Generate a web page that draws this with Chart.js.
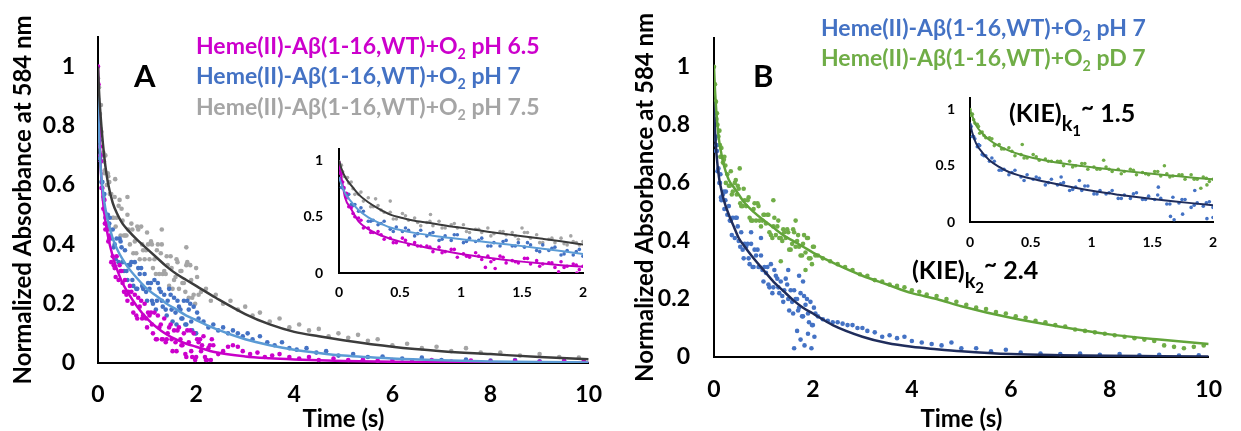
<!DOCTYPE html>
<html>
<head>
<meta charset="utf-8">
<script src="https://cdn.jsdelivr.net/npm/chart.js@4.4.0/dist/chart.umd.min.js"></script>
<style>
  body { margin: 0; width: 1241px; height: 431px; background: #fff; position: relative; overflow: hidden; font-family: Lato, sans-serif; font-weight: bold; }
  canvas { position: absolute; }
  .lbl { position: absolute; white-space: nowrap; line-height: 1; }
  .lbl sub { font-size: 0.62em; vertical-align: -0.35em; line-height: 0; }
  .kie sub { font-size: 0.8em; vertical-align: -0.45em; }
  .kie sub sub { font-size: 0.75em; vertical-align: -0.3em; }
  .kie sup { font-size: 0.9em; vertical-align: 0.3em; line-height: 0; }
</style>
</head>
<body>
<canvas id="mainA" width="620" height="431" style="left:0;top:0"></canvas>
<canvas id="mainB" width="621" height="431" style="left:620px;top:0"></canvas>
<canvas id="insetA" width="310" height="190" style="left:290px;top:125px"></canvas>
<canvas id="insetB" width="315" height="190" style="left:915px;top:75px"></canvas>

<div class="lbl" style="left:196px;top:34px;font-size:23px;color:#cc00cc">Heme(II)-Aβ(1-16,WT)+O<sub>2</sub> pH 6.5</div>
<div class="lbl" style="left:196px;top:64px;font-size:23px;color:#4472c4">Heme(II)-Aβ(1-16,WT)+O<sub>2</sub> pH 7</div>
<div class="lbl" style="left:196px;top:95px;font-size:23px;color:#a5a5a5">Heme(II)-Aβ(1-16,WT)+O<sub>2</sub> pH 7.5</div>
<div class="lbl" style="left:134px;top:60px;font-size:31px;color:#000">A</div>

<div class="lbl" style="left:821px;top:16px;font-size:23px;color:#4472c4">Heme(II)-Aβ(1-16,WT)+O<sub>2</sub> pH 7</div>
<div class="lbl" style="left:821px;top:46px;font-size:23px;color:#70ad47">Heme(II)-Aβ(1-16,WT)+O<sub>2</sub> pD 7</div>
<div class="lbl" style="left:753px;top:60px;font-size:31px;color:#000">B</div>
<div class="lbl kie" style="left:1009px;top:100px;font-size:25px;color:#000">(KIE)<sub>k<sub>1</sub></sub><sup>~</sup> 1.5</div>
<div class="lbl kie" style="left:912px;top:257px;font-size:25px;color:#000">(KIE)<sub>k<sub>2</sub></sub><sup>~</sup> 2.4</div>

<script>
// ---- axis ticks ----
const xTicksMain = [0, 2, 4, 6, 8, 10];
const yTicksMain = [0, 0.2, 0.4, 0.6, 0.8, 1];
const xTicksInset = [0, 0.5, 1, 1.5, 2];
const yTicksInset = [0, 0.5, 1];

// ---- main panels: dense part of the traces (first 2 s) ----
const tDense = [0.00,0.01,0.02,0.03,0.04,0.05,0.07,0.09,0.11,0.13,0.15,0.18,0.21,0.24,0.27,0.30,0.34,0.38,0.42,0.46,0.50,
  0.55,0.60,0.65,0.70,0.75,0.80,0.85,0.90,0.95,1.00,1.05,1.10,1.15,1.20,1.25,1.30,1.35,1.40,1.45,1.50,
  1.55,1.60,1.65,1.70,1.75,1.80,1.85,1.90,1.95,2.00,2.05,2.10,2.15,2.20,2.25,2.30,2.35];
const tDense2 = [0.12,0.20,0.32,0.44,0.53,0.62,0.72,0.82,0.92,1.02,1.12,1.22,1.32,1.42,1.52,1.62,1.72,1.82,1.92,2.02,2.12,2.22,2.32];
const tDense3 = [0.06,0.14,0.23,0.36,0.48,0.58,0.68,0.78,0.88,0.98,1.08,1.18,1.28,1.38,1.48,1.58,1.68,1.78,1.88,1.98,2.08,2.18,2.28];

// panel A
const denseA65 = [1.00,0.94,0.83,0.82,0.73,0.70,0.59,0.59,0.52,0.55,0.45,0.47,0.41,0.43,0.34,0.36,0.32,0.36,0.28,0.31,0.27,
  0.28,0.21,0.26,0.20,0.23,0.15,0.19,0.15,0.20,0.12,
  0.16,0.13,0.17,0.08,0.12,0.08,0.15,0.08,0.12,0.08,0.11,0.04,0.12,0.06,0.10,0.02,0.07,0.04,0.10,0.02,
  0.07,0.04,0.09,0.01,0.05,0.01,0.06];
const denseA65b = [0.52,0.45,0.33,0.33,0.24,0.24,0.17,0.22,0.16,0.17,0.10,0.16,0.08,0.10,0.04,0.11,0.06,0.11,0.02,0.08,0.06,0.01,0.08];
const denseA65c = [0.68,0.47,0.42,0.29,0.31,0.23,0.24,0.16,0.21,0.15,0.17,0.08,0.13,0.07,0.13,0.07,0.08,0.03,0.11,0.01,0.08,0.02,0.06];
const denseA70 = [0.89,0.86,0.75,0.75,0.69,0.70,0.61,0.61,0.56,0.57,0.49,0.50,0.46,0.49,0.42,0.45,0.40,0.42,0.34,0.41,0.34,
  0.38,0.28,0.33,0.28,0.34,0.25,0.30,0.26,0.30,0.21,
  0.25,0.21,0.28,0.21,0.25,0.21,0.23,0.16,0.25,0.18,0.22,0.13,0.19,0.15,0.21,0.13,0.18,0.14,0.19,0.10,
  0.15];
const denseA70b = [0.55,0.50,0.39,0.42,0.31,0.33,0.26,0.32,0.25,0.27,0.20,0.27,0.19,0.21,0.14,0.21,0.15,0.21,0.11,0.17];
const denseA70c = [0.68,0.51,0.47,0.35,0.39,0.31,0.34,0.25,0.32,0.24,0.27,0.18,0.24,0.18,0.23,0.17,0.18,0.13,0.20,0.10];
const denseA75 = [0.96,0.93,0.93,0.84,0.84,0.79,0.78,0.70,0.71,0.64,0.70,0.60,0.63,0.57,0.57,0.49,0.56,0.49,0.53,0.43,0.48,
  0.43,0.50,0.40,0.45,0.41,0.46,0.35,0.40,0.35,0.44,
  0.35,0.40,0.35,0.38,0.30,0.40,0.31,0.36,0.26,0.32,0.28,0.35,0.25,0.31,0.27,0.33,0.22,0.28,0.23,0.32,
  0.23];
const denseA75b = [0.68,0.64,0.49,0.55,0.43,0.45,0.37,0.45,0.38,0.40,0.32,0.40,0.30,0.33,0.25,0.34,0.27,0.34,0.22,0.29];
const denseA75c = [0.87,0.65,0.61,0.46,0.52,0.43,0.47,0.37,0.46,0.38,0.41,0.30,0.37,0.30,0.36,0.29,0.31,0.24,0.33,0.20];

// sparse tail points after 2 s, [t, absorbance]
const tailA65 = [[2.45,0.03],[2.55,0.04],[2.65,0.055],[2.75,0.06],[2.85,0.055],[2.95,0.04],[3.1,0.03],[3.25,0.035],[3.4,0.02],
  [3.55,0.025],[3.7,0.03],[3.9,0.02],[4.1,0.015],[4.3,0.02],[4.5,0.01],[4.8,0.015],[5.1,0.01],[5.4,0.012],[5.7,0.008],
  [6.0,0.01],[6.4,0.006],[6.8,0.01],[7.2,0.005],[7.6,0.008],[8.0,0.005],[8.5,0.007],[9.0,0.004],[9.5,0.006],[9.9,0.004]];
const tailA70 = [[2.15,0.14],[2.25,0.12],[2.35,0.13],[2.45,0.11],[2.55,0.12],[2.65,0.10],[2.75,0.11],[2.85,0.10],[2.95,0.09],
  [3.05,0.10],[3.15,0.08],[3.3,0.09],[3.45,0.07],[3.6,0.06],[3.75,0.07],[3.9,0.05],[4.05,0.045],[4.25,0.05],[4.45,0.035],
  [4.65,0.04],[4.9,0.025],[5.2,0.03],[5.5,0.02],[5.8,0.022],[6.2,0.015],[6.6,0.018],[7.0,0.01],[7.5,0.012],[8.0,0.008],
  [8.5,0.01],[9.0,0.006],[9.5,0.008],[9.9,0.005]];
const tailA75 = [[0.35,0.62],[0.6,0.56],[1.3,0.45],[1.8,0.39],
  [2.1,0.24],[2.2,0.25],[2.3,0.21],[2.4,0.23],[2.55,0.20],[2.7,0.21],[2.85,0.18],[3.0,0.19],[3.15,0.16],[3.3,0.17],
  [3.5,0.14],[3.7,0.15],[3.9,0.12],[4.1,0.13],[4.3,0.11],[4.5,0.115],[4.7,0.09],[4.9,0.10],[5.1,0.085],[5.3,0.095],
  [5.5,0.075],[5.7,0.08],[6.0,0.06],[6.3,0.065],[6.6,0.05],[6.9,0.055],[7.2,0.04],[7.5,0.05],[7.8,0.035],[8.2,0.035],
  [8.6,0.025],[9.0,0.03],[9.4,0.02],[9.8,0.018]];

// panel B
const denseB70 = [0.87,0.84,0.75,0.76,0.71,0.73,0.64,0.65,0.60,0.63,0.54,0.56,0.51,0.57,0.49,0.52,0.47,0.48,0.41,0.48,0.40,
  0.43,0.34,0.38,0.34,0.39,0.31,0.35,0.31,0.35,0.26,
  0.29,0.25,0.32,0.24,0.28,0.24,0.26,0.19,0.27,0.20,0.23,0.15,0.20,0.16,0.22,0.14,0.18,0.15,0.19,0.11,
  0.15];
const denseB70b = [0.60,0.57,0.47,0.48,0.38,0.39,0.32,0.37,0.31,0.31,0.24,0.30,0.22,0.23,0.16,0.23,0.17,0.21,0.12,0.17];
const denseB70c = [0.71,0.55,0.54,0.42,0.45,0.37,0.39,0.31,0.37,0.30,0.31,0.22,0.27,0.21,0.25,0.19,0.20,0.14,0.20,0.11];
const denseBD7 = [1.00,0.94,0.94,0.88,0.88,0.82,0.80,0.76,0.78,0.69,0.72,0.67,0.69,0.60,0.63,0.59,0.64,0.57,0.60,0.56,0.58,
  0.52,0.58,0.52,0.55,0.47,0.51,0.47,0.52,0.45,0.49,
  0.46,0.49,0.42,0.45,0.42,0.47,0.41,0.44,0.41,0.43,0.37,0.44,0.38,0.42,0.35,0.39,0.36,0.41,0.34,0.38,
  0.35];
const denseBD7b = [0.73,0.68,0.59,0.61,0.53,0.54,0.48,0.53,0.47,0.49,0.43,0.48,0.41,0.43,0.37,0.43,0.38,0.42,0.34,0.38];
const denseBD7c = [0.84,0.69,0.66,0.56,0.59,0.52,0.54,0.47,0.53,0.47,0.49,0.41,0.45,0.40,0.44,0.39,0.40,0.35,0.41,0.32];

const tailB70 = [[0.75,0.43],[0.95,0.41],[1.5,0.30],[1.72,0.28],[1.8,0.26],[1.62,0.03],[1.68,0.09],[1.75,0.06],[1.83,0.04],
  [1.9,0.08],[1.97,0.03],[2.03,0.07],
  [2.1,0.14],[2.2,0.13],[2.3,0.125],[2.4,0.12],[2.5,0.12],[2.6,0.115],[2.7,0.11],[2.8,0.11],[2.9,0.10],[3.0,0.10],
  [3.1,0.09],[3.25,0.085],[3.4,0.07],[3.55,0.075],[3.7,0.065],[3.85,0.07],[4.0,0.055],[4.2,0.05],[4.4,0.045],[4.6,0.04],
  [4.8,0.05],[5.0,0.03],[5.3,0.03],[5.6,0.02],[5.9,0.025],[6.2,0.015],[6.6,0.012],[7.0,0.01],[7.4,0.012],[7.8,0.008],
  [8.2,0.01],[8.6,0.006],[9.0,0.008],[9.4,0.005],[9.8,0.006]];
const tailBD7 = [[0.52,0.65],[1.2,0.54],[1.65,0.47],[1.35,0.33],[1.85,0.30],
  [2.1,0.35],[2.2,0.34],[2.35,0.33],[2.5,0.32],[2.65,0.31],[2.8,0.30],[2.95,0.285],[3.1,0.28],[3.25,0.265],[3.4,0.26],
  [3.55,0.25],[3.7,0.245],[3.85,0.24],[4.0,0.23],[4.15,0.225],[4.3,0.215],[4.5,0.21],[4.7,0.2],[4.9,0.19],[5.1,0.18],
  [5.3,0.17],[5.5,0.165],[5.7,0.155],[5.9,0.15],[6.1,0.14],[6.3,0.135],[6.5,0.125],[6.7,0.12],[6.9,0.11],[7.1,0.105],
  [7.3,0.095],[7.5,0.09],[7.7,0.085],[7.9,0.08],[8.1,0.075],[8.3,0.07],[8.5,0.065],[8.7,0.06],[8.9,0.055],[9.1,0.04],
  [9.3,0.035],[9.5,0.03],[9.7,0.035],[9.9,0.04]];

// fitted curves, main panels
const tFit = [0,0.02,0.05,0.1,0.15,0.2,0.3,0.4,0.5,0.6,0.8,1.0,1.2,1.4,1.6,1.8,2.0,2.4,3.0,3.5,4.0,4.5,5.0,6.0,7.0,8.0,9.0,10.0];
const fitA65 = [1.0,0.85,0.68,0.55,0.48,0.43,0.36,0.31,0.27,0.24,0.19,0.15,0.12,0.096,0.079,0.065,0.055,0.036,0.022,0.016,0.012,0.009,0.007,0.004,0.003,0.002,0.0015,0.001];
const fitA70 = [0.9,0.78,0.67,0.58,0.52,0.48,0.42,0.38,0.35,0.325,0.285,0.25,0.225,0.2,0.18,0.16,0.145,0.115,0.08,0.06,0.045,0.034,0.025,0.015,0.009,0.005,0.003,0.002];
const fitA75 = [1.0,0.92,0.84,0.74,0.665,0.61,0.54,0.50,0.47,0.45,0.415,0.385,0.355,0.325,0.30,0.28,0.26,0.22,0.165,0.13,0.105,0.09,0.077,0.055,0.04,0.03,0.02,0.013];
const fitB70 = [0.88,0.78,0.70,0.62,0.575,0.54,0.49,0.45,0.41,0.385,0.34,0.30,0.26,0.228,0.196,0.17,0.15,0.11,0.07,0.048,0.035,0.027,0.02,0.01,0.006,0.004,0.003,0.002];
const fitBD7 = [1.0,0.92,0.84,0.75,0.70,0.66,0.61,0.585,0.56,0.535,0.50,0.472,0.446,0.42,0.40,0.38,0.36,0.325,0.28,0.25,0.22,0.20,0.175,0.135,0.104,0.078,0.06,0.045];

// ---- insets (first 2 s) ----
const tIn = [0,0.01,0.02,0.04,0.06,0.08,0.1,0.13,0.16,0.2,0.24,0.28,0.32,0.37,0.42,0.47,0.52,0.57,0.62,0.67,0.72,0.77,0.82,
  0.87,0.92,0.97,1.02,1.07,1.12,1.17,1.22,1.27,1.32,1.37,1.42,1.47,1.52,1.57,1.62,1.67,1.72,1.77,1.82,1.87,1.92,1.97,2.0];
const tIn2 = [0.03,0.07,0.115,0.18,0.26,0.345,0.445,0.545,0.645,0.745,0.845,0.945,1.045,1.145,1.245,1.345,1.445,1.545,1.645,1.745,1.845,1.945];
const inA65 = [0.98,0.89,0.88,0.76,0.71,0.59,0.58,0.50,0.49,0.40,0.40,0.36,0.37,0.30,0.31,0.27,0.31,0.25,0.27,0.24,0.24,0.19,0.23,
  0.19,0.21,0.14,0.17,0.14,0.18,0.12,0.15,0.12,0.15,0.09,0.11,0.09,0.13,0.08,0.11,0.08,0.09,0.05,0.10,0.06,0.08,0.03,0.06];
const inA65b = [0.81,0.67,0.53,0.47,0.36,0.34,0.27,0.29,0.24,0.23,0.18,0.21,0.15,0.15,0.10,0.14,0.10,0.13,0.06,0.09,0.05,0.07];
const inA70 = [0.84,0.84,0.76,0.75,0.68,0.70,0.61,0.61,0.55,0.55,0.46,0.47,0.43,0.46,0.39,0.41,0.37,0.38,0.33,0.38,0.33,0.36,0.29,
  0.33,0.29,0.34,0.27,0.31,0.28,0.31,0.24,0.27,0.24,0.29,0.24,0.27,0.23,0.25,0.20,0.25,0.20,0.23,0.16,0.20,0.16,0.21,0.15];
const inA70b = [0.76,0.70,0.60,0.58,0.46,0.44,0.37,0.40,0.35,0.35,0.30,0.34,0.28,0.29,0.24,0.28,0.24,0.27,0.19,0.22,0.17,0.19];
const inA75 = [0.99,0.94,0.96,0.86,0.85,0.80,0.81,0.70,0.70,0.64,0.67,0.59,0.60,0.54,0.54,0.48,0.53,0.47,0.49,0.42,0.45,0.42,0.46,
  0.40,0.43,0.40,0.43,0.36,0.39,0.36,0.40,0.35,0.37,0.34,0.36,0.30,0.36,0.31,0.34,0.27,0.30,0.27,0.31,0.25,0.28,0.25,0.28];
const inA75b = [0.90,0.85,0.75,0.72,0.59,0.56,0.48,0.51,0.45,0.46,0.40,0.44,0.37,0.39,0.33,0.37,0.33,0.36,0.27,0.31,0.26,0.27];
const inB70 = [0.87,0.85,0.76,0.74,0.67,0.68,0.60,0.59,0.54,0.54,0.46,0.47,0.42,0.46,0.40,0.42,0.38,0.39,0.33,0.38,0.33,0.35,0.28,
  0.31,0.28,0.32,0.25,0.28,0.25,0.28,0.21,0.24,0.21,0.26,0.20,0.23,0.20,0.21,0.16,0.22,0.17,0.20,0.13,0.17,0.14,0.18,0.13];
const inB70b = [0.76,0.69,0.59,0.57,0.46,0.44,0.37,0.40,0.35,0.34,0.29,0.32,0.25,0.26,0.21,0.25,0.20,0.24,0.16,0.20,0.15,0.17];
const inBD7 = [1.00,0.95,0.96,0.88,0.87,0.79,0.80,0.75,0.75,0.68,0.69,0.65,0.66,0.59,0.60,0.57,0.60,0.55,0.56,0.54,0.54,0.50,0.54,
  0.50,0.52,0.47,0.49,0.47,0.49,0.45,0.47,0.45,0.47,0.42,0.44,0.42,0.45,0.41,0.43,0.41,0.42,0.38,0.42,0.38,0.40,0.36,0.38];
const inBD7b = [0.91,0.85,0.77,0.74,0.65,0.63,0.57,0.58,0.54,0.54,0.49,0.52,0.47,0.47,0.43,0.46,0.43,0.45,0.40,0.42,0.38,0.39];
const extraInA65 = [[1.2,0.05],[1.28,0.04],[1.8,0.01],[1.95,0.0]];
const extraInA75 = [[0.3,0.66],[0.42,0.64],[0.75,0.52],[1.5,0.40],[1.9,0.33]];
const extraInB70 = [[1.65,0.05],[1.68,0.02],[1.75,0.07],[1.95,0.03],[2.0,0.04],[1.85,0.28],[1.55,0.31],[0.75,0.40],[0.9,0.37]];
const extraInBD7 = [[0.43,0.69],[1.1,0.55],[1.6,0.50],[1.9,0.30],[1.95,0.33]];

const tFitIn = [0,0.02,0.05,0.1,0.16,0.24,0.32,0.42,0.52,0.62,0.77,0.92,1.07,1.22,1.37,1.52,1.67,1.82,2.0];
const fitInA65 = [0.97,0.85,0.67,0.57,0.46,0.39,0.345,0.305,0.275,0.25,0.215,0.184,0.157,0.135,0.116,0.099,0.084,0.07,0.055];
const fitInA70 = [0.85,0.79,0.71,0.635,0.56,0.495,0.45,0.405,0.378,0.357,0.332,0.311,0.292,0.274,0.256,0.237,0.216,0.195,0.17];
const fitInA75 = [1.0,0.93,0.855,0.78,0.70,0.63,0.575,0.52,0.49,0.465,0.44,0.414,0.392,0.368,0.346,0.325,0.304,0.282,0.253];
const fitInB70 = [0.88,0.79,0.7,0.62,0.55,0.49,0.445,0.41,0.382,0.358,0.325,0.294,0.266,0.243,0.222,0.203,0.185,0.168,0.15];
const fitInBD7 = [1.0,0.94,0.86,0.79,0.73,0.675,0.635,0.598,0.57,0.548,0.52,0.498,0.478,0.46,0.443,0.427,0.412,0.397,0.38];

// colours
const MAGENTA = '#cc00cc', BLUE = '#4472c4', GREY = '#a5a5a5', GREEN = '#70ad47';

// ---- helpers ----
const zip = (ts, vs) => vs.map((v, i) => ({ x: ts[i], y: v }));
const pairs = arr => arr.map(p => ({ x: p[0], y: p[1] }));

function dots(data, color, order, r) {
  return { type: 'scatter', data, backgroundColor: color, borderWidth: 0, pointRadius: r, order };
}
function curve(data, color, width) {
  return { type: 'line', data, borderColor: color, borderWidth: width, pointRadius: 0, fill: false,
           cubicInterpolationMode: 'monotone', order: 0 };
}

function makeChart(id, o, datasets) {
  const tickFont = { family: 'Lato', weight: 'bold', size: o.tickSize };
  const titleFont = { family: 'Lato', weight: 'bold', size: 24 };
  new Chart(document.getElementById(id), {
    type: 'scatter',
    data: { datasets },
    options: {
      responsive: false,
      animation: false,
      events: [],
      layout: { padding: o.pad },
      plugins: { legend: { display: false }, tooltip: { enabled: false } },
      scales: {
        x: {
          type: 'linear', min: 0, max: o.xMax,
          afterBuildTicks: s => { s.ticks = o.xTicks.map(v => ({ value: v })); },
          afterFit: s => { s.height = o.xHeight; },
          grid: { display: false, drawTicks: false },
          border: { display: true, color: '#000', width: 2 },
          ticks: { color: '#000', font: tickFont, padding: o.xPad, maxRotation: 0, minRotation: 0, autoSkip: false,
                   callback: v => String(v) },
          title: o.titles ? { display: true, text: 'Time (s)', color: '#000', font: titleFont, padding: { top: 0, bottom: -3 } }
                          : { display: false }
        },
        y: {
          type: 'linear', min: 0, max: 1.1,
          afterBuildTicks: s => { s.ticks = o.yTicks.map(v => ({ value: v })); },
          afterFit: s => { s.width = o.yWidth; },
          grid: { display: false, drawTicks: false },
          border: { display: true, color: '#000', width: 2 },
          ticks: { color: '#000', font: tickFont, padding: o.yPad, callback: v => String(v) },
          title: o.titles ? { display: true, text: 'Normalized Absorbance at 584 nm', color: '#000', font: titleFont,
                              padding: { top: o.yTitlePad, bottom: 0 } }
                          : { display: false }
        }
      }
    }
  });
}

const R = 2.3, RI = 1.8;

// ---- panel A ----
makeChart('mainA',
  { pad: { left: 0, top: 25, right: 15, bottom: 0 }, xMax: 10, xTicks: xTicksMain, yTicks: yTicksMain,
    xHeight: 68, yWidth: 98, tickSize: 23, xPad: 18, yPad: 23, yTitlePad: 9, titles: true },
  [
    curve(zip(tFit, fitA75), '#3c3c3c', 2.5),
    curve(zip(tFit, fitA70), '#5b9bd5', 2.5),
    curve(zip(tFit, fitA65), '#c800c8', 2.5),
    dots(zip(tDense, denseA65).concat(zip(tDense2, denseA65b), zip(tDense3, denseA65c), pairs(tailA65)), MAGENTA, 1, R),
    dots(zip(tDense, denseA70).concat(zip(tDense2, denseA70b), zip(tDense3, denseA70c), pairs(tailA70)), BLUE, 2, R),
    dots(zip(tDense, denseA75).concat(zip(tDense2, denseA75b), zip(tDense3, denseA75c), pairs(tailA75)), GREY, 3, R)
  ]);

makeChart('insetA',
  { pad: { left: 0, top: 10, right: 17, bottom: 0 }, xMax: 2, xTicks: xTicksInset, yTicks: yTicksInset,
    xHeight: 42, yWidth: 49, tickSize: 14, xPad: 11, yPad: 16, titles: false },
  [
    curve(zip(tFitIn, fitInA75), '#3a3a3a', 2),
    curve(zip(tFitIn, fitInA70), '#5b9bd5', 2),
    curve(zip(tFitIn, fitInA65), '#c000c0', 2),
    dots(zip(tIn, inA65).concat(zip(tIn2, inA65b), pairs(extraInA65)), MAGENTA, 1, RI),
    dots(zip(tIn, inA70).concat(zip(tIn2, inA70b)), BLUE, 2, RI),
    dots(zip(tIn, inA75).concat(zip(tIn2, inA75b), pairs(extraInA75)), GREY, 3, RI)
  ]);

// ---- panel B ----
makeChart('mainB',
  { pad: { left: 0, top: 22, right: 15, bottom: 0 }, xMax: 10, xTicks: xTicksMain, yTicks: yTicksMain,
    xHeight: 74, yWidth: 94, tickSize: 23, xPad: 19, yPad: 24, yTitlePad: 11, titles: true },
  [
    curve(zip(tFit, fitBD7), '#62a43a', 2.5),
    curve(zip(tFit, fitB70), '#1f2d5c', 2.5),
    dots(zip(tDense, denseB70).concat(zip(tDense2, denseB70b), zip(tDense3, denseB70c), pairs(tailB70)), BLUE, 1, R),
    dots(zip(tDense, denseBD7).concat(zip(tDense2, denseBD7b), zip(tDense3, denseBD7c), pairs(tailBD7)), GREEN, 2, R)
  ]);

makeChart('insetB',
  { pad: { left: 0, top: 10, right: 17, bottom: 0 }, xMax: 2, xTicks: xTicksInset, yTicks: yTicksInset,
    xHeight: 43, yWidth: 55, tickSize: 14, xPad: 12, yPad: 15, titles: false },
  [
    curve(zip(tFitIn, fitInBD7), '#5f9e3a', 2),
    curve(zip(tFitIn, fitInB70), '#1f2d5c', 2),
    dots(zip(tIn, inB70).concat(zip(tIn2, inB70b), pairs(extraInB70)), BLUE, 1, RI),
    dots(zip(tIn, inBD7).concat(zip(tIn2, inBD7b), pairs(extraInBD7)), GREEN, 2, RI)
  ]);
</script>
</body>
</html>
